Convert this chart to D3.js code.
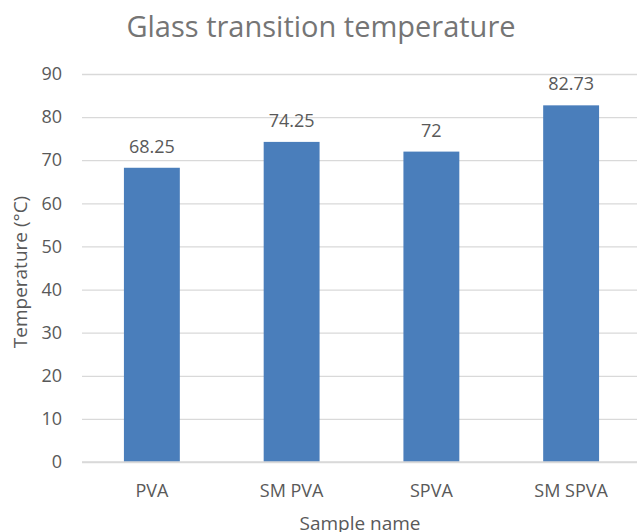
<!DOCTYPE html>
<html>
<head>
<meta charset="utf-8">
<script src="https://cdn.jsdelivr.net/npm/d3@7"></script>
<style>
  body { margin: 0; background: #fff; }
  text { font-family: "Open Sans", sans-serif; }
</style>
</head>
<body>
<div id="chart"></div>
<script>
// data
const samples = ["PVA", "SM PVA", "SPVA", "SM SPVA"];
const tg = [68.25, 74.25, 72, 82.73];
const tgLabels = ["68.25", "74.25", "72", "82.73"];
const yTicks = [0, 10, 20, 30, 40, 50, 60, 70, 80, 90];

const chart = {};
chart.width = 637;
chart.height = 532;
chart.margin = { top: 74, right: -4, bottom: 70, left: 82 };

chart.svg = d3
  .select("#chart")
  .append("svg")
  .attr("width", chart.width)
  .attr("height", chart.height);

var x = d3
  .scaleBand(samples, [chart.margin.left, chart.width - chart.margin.right])
  .paddingInner(0.6)
  .paddingOuter(0.3);
var y = d3.scaleLinear([0, 90], [chart.height - chart.margin.bottom, chart.margin.top]);

// gridlines
chart.svg
  .append("g")
  .attr("transform", "translate(" + chart.margin.left + ",0)")
  .call(
    d3.axisLeft(y)
      .tickValues(yTicks)
      .tickSize(-(chart.width - chart.margin.right - chart.margin.left))
      .tickPadding(20)
  )
  .call((g) => g.select(".domain").remove())
  .call((g) => g.selectAll(".tick line").attr("stroke", "#d9d9d9").attr("stroke-width", 1.3))
  .call((g) => g.selectAll(".tick text").attr("fill", "#595959").style("font-size", "18px"));

// bars
chart.svg
  .append("g")
  .selectAll("rect")
  .data(samples)
  .join("rect")
  .attr("x", (d) => x(d))
  .attr("width", x.bandwidth())
  .attr("y", (d, i) => y(tg[i]))
  .attr("height", (d, i) => y(0) - y(tg[i]))
  .attr("fill", "#4a7ebb");

// baseline
chart.svg
  .append("line")
  .attr("x1", chart.margin.left)
  .attr("x2", chart.width)
  .attr("y1", y(0))
  .attr("y2", y(0))
  .attr("stroke", "#d9d9d9")
  .attr("stroke-width", 1.5);

// data labels
chart.svg
  .append("g")
  .selectAll("text")
  .data(samples)
  .join("text")
  .attr("x", (d) => x(d) + x.bandwidth() / 2)
  .attr("y", (d, i) => y(tg[i]) - 15)
  .attr("text-anchor", "middle")
  .attr("fill", "#595959")
  .style("font-size", "18px")
  .text((d, i) => tgLabels[i]);

// x axis labels
chart.svg
  .append("g")
  .attr("transform", "translate(0," + y(0) + ")")
  .call(d3.axisBottom(x).tickSize(0).tickPadding(22))
  .call((g) => g.select(".domain").remove())
  .call((g) => g.selectAll(".tick text").attr("fill", "#595959").style("font-size", "18px"));

// titles
chart.svg
  .append("text")
  .attr("x", 321)
  .attr("y", 37)
  .attr("text-anchor", "middle")
  .attr("fill", "#757575")
  .style("font-size", "29px")
  .text("Glass transition temperature");

chart.svg
  .append("text")
  .attr("x", 360)
  .attr("y", 530)
  .attr("text-anchor", "middle")
  .attr("fill", "#595959")
  .style("font-size", "19px")
  .text("Sample name");

chart.svg
  .append("text")
  .attr("transform", "rotate(-90)")
  .attr("x", -272)
  .attr("y", 27)
  .attr("text-anchor", "middle")
  .attr("fill", "#595959")
  .style("font-size", "19px")
  .text("Temperature (°C)");
</script>
</body>
</html>
